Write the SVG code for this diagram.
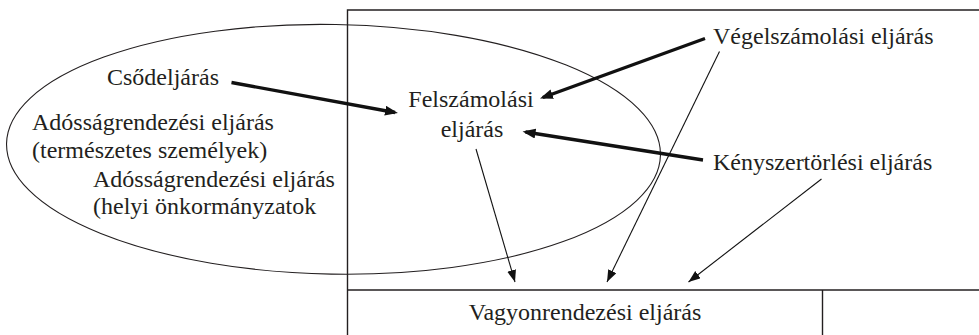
<svg xmlns="http://www.w3.org/2000/svg" width="979" height="335" viewBox="0 0 979 335">
  <style>
    .t { font-family: "Liberation Serif", "Times New Roman", serif; font-size: 24px; fill: #231f20; }
    .frame { stroke: #231f20; stroke-width: 1.4; fill: none; }
    .thick { stroke: #111; stroke-width: 3.4; fill: none; marker-end: url(#ahThick); }
    .thin { stroke: #111; stroke-width: 1.1; fill: none; marker-end: url(#ahThin); }
  </style>
  <defs>
    <marker id="ahThick" markerWidth="14" markerHeight="12" refX="10" refY="5" orient="auto" markerUnits="userSpaceOnUse">
      <path d="M0,0 L13,5 L0,10 z" fill="#111"/>
    </marker>
    <marker id="ahThin" markerWidth="13" markerHeight="10" refX="12" refY="4.5" orient="auto" markerUnits="userSpaceOnUse">
      <path d="M0,0 L12,4.5 L0,9 z" fill="#111"/>
    </marker>
  </defs>
  <rect width="979" height="335" fill="#fff"/>

  <g id="frame">
    <path class="frame" d="M347.5,335 L347.5,10 L979,10"/>
    <path class="frame" d="M347,290 L979,290" stroke-width="1.6"/>
  </g>

  <g id="ellipse">
    <ellipse cx="333.5" cy="149.3" rx="327" ry="124.8" transform="rotate(1 333.5 149.3)" fill="none" stroke="#231f20" stroke-width="1.1"/>
  </g>

  <g id="csodeljaras">
    <text class="t" x="107" y="84.5">Csődeljárás</text>
  </g>
  <g id="adossag-termeszetes">
    <text class="t" x="32" y="130">Adósságrendezési eljárás</text>
    <text class="t" x="32" y="158">(természetes személyek)</text>
  </g>
  <g id="adossag-onkormanyzat">
    <text class="t" x="93" y="187">Adósságrendezési eljárás</text>
    <text class="t" x="93" y="214">(helyi önkormányzatok</text>
  </g>
  <g id="felszamolas">
    <text class="t" x="471" y="107" text-anchor="middle">Felszámolási</text>
    <text class="t" x="472" y="137" text-anchor="middle">eljárás</text>
  </g>
  <g id="vegelszamolas">
    <text class="t" x="713" y="44">Végelszámolási eljárás</text>
  </g>
  <g id="kenyszertorles">
    <text class="t" x="713" y="170">Kényszertörlési eljárás</text>
  </g>
  <g id="vagyonrendezes">
    <path class="frame" d="M822.5,290 L822.5,335"/>
    <text class="t" x="585" y="320" text-anchor="middle">Vagyonrendezési eljárás</text>
  </g>

  <g id="connectors">
    <path class="thick" d="M231.5,82.5 L395,112.5"/>
    <path class="thick" d="M705,38.5 L542.8,97.5"/>
    <path class="thick" d="M703,160 L525.5,132"/>
    <path class="thin" d="M476,149 L515,282"/>
    <path class="thin" d="M719.5,51.5 L607,282"/>
    <path class="thin" d="M821.5,179 L688.5,282"/>
  </g>
</svg>
